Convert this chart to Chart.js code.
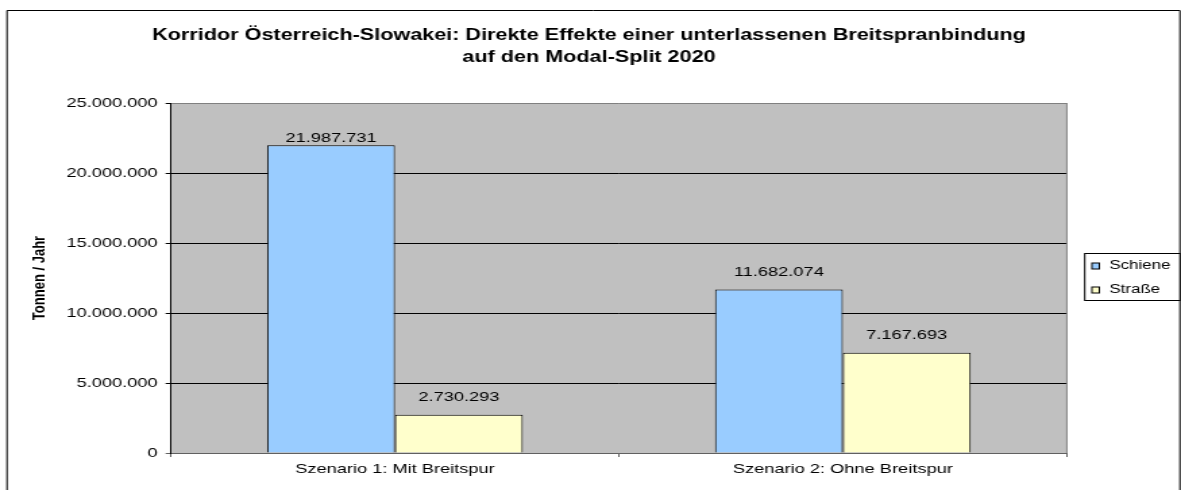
<!DOCTYPE html>
<html>
<head>
<meta charset="utf-8">
<script src="https://cdn.jsdelivr.net/npm/chart.js@4.4.1/dist/chart.umd.min.js"></script>
<style>
  html, body { margin: 0; padding: 0; background: #fff; overflow: hidden; }
  #c { display: block; }
</style>
</head>
<body>
<canvas id="c" width="875" height="490" style="width:1181px;height:490px"></canvas>
<script>
// ---- data ----
const categories = ['Szenario 1: Mit Breitspur', 'Szenario 2: Ohne Breitspur'];
const seriesNames = ['Schiene', 'Straße'];
const schiene = [21987731, 11682074];
const strasse = [2730293, 7167693];
const yMin = 0;
const yMax = 25000000;
const yStep = 5000000;
const titleLines = ['Korridor Österreich-Slowakei: Direkte Effekte einer unterlassenen Breitspranbindung', 'auf den Modal-Split 2020'];
const yAxisTitle = 'Tonnen / Jahr';

// ---- helpers ----
const FONT = "'Liberation Sans', Arial, sans-serif";
function fmtDE(v) {
  return String(Math.round(v)).replace(/\B(?=(\d{3})+(?!\d))/g, '.');
}

// canvas is drawn at 875 px wide and stretched to 1181 px (reference is horizontally stretched)
const PLOT_LEFT = 126.7, PLOT_RIGHT = 790.4, PLOT_TOP = 103, PLOT_BOTTOM = 453;
const W = 875, H = 490;

const decorPlugin = {
  id: 'decor',
  beforeDraw(chart) {
    const ctx = chart.ctx, a = chart.chartArea;
    ctx.save();
    ctx.fillStyle = '#fff';
    ctx.fillRect(0, 0, W, H);
    ctx.fillStyle = '#C0C0C0';
    ctx.fillRect(a.left, a.top, a.right - a.left, a.bottom - a.top);
    ctx.restore();
  },
  afterDraw(chart) {
    const ctx = chart.ctx, a = chart.chartArea;
    ctx.save();
    // plot right border (gray)
    ctx.strokeStyle = '#808080';
    ctx.lineWidth = 1;
    ctx.beginPath();
    ctx.moveTo(a.right, a.top);
    ctx.lineTo(a.right, a.bottom);
    ctx.stroke();
    // outer frame
    ctx.strokeStyle = '#000';
    ctx.beginPath();
    ctx.moveTo(5.2, H + 5);
    ctx.lineTo(5.2, 10.5);
    ctx.lineTo(874.2, 10.5);
    ctx.lineTo(874.2, H + 5);
    ctx.stroke();
    // title
    ctx.fillStyle = '#000';
    ctx.font = 'bold 16px ' + FONT;
    ctx.textAlign = 'center';
    ctx.textBaseline = 'alphabetic';
    ctx.fillText(titleLines[0], 436.4, 40);
    ctx.fillText(titleLines[1], 436.4, 62);
    // y axis title
    ctx.save();
    ctx.translate(29, (a.top + a.bottom) / 2);
    ctx.rotate(-Math.PI / 2);
    ctx.font = 'bold 13px ' + FONT;
    ctx.textBaseline = 'middle';
    ctx.fillText(yAxisTitle, 0, 0);
    ctx.restore();
    // data labels
    ctx.font = '13.5px ' + FONT;
    ctx.textAlign = 'center';
    ctx.textBaseline = 'middle';
    chart.data.datasets.forEach((ds, di) => {
      const meta = chart.getDatasetMeta(di);
      meta.data.forEach((bar, i) => {
        let y = bar.y - 17;
        if (y < a.top + 34) y = bar.y - 7;
        ctx.fillText(fmtDE(ds.data[i]), bar.x, y);
      });
    });
    // legend
    const lx = 803.7, ly = 253.5, lw = 874.2 - 803.7, lh = 47;
    ctx.fillStyle = '#fff';
    ctx.fillRect(lx, ly, lw, lh);
    ctx.strokeStyle = '#000';
    ctx.strokeRect(lx, ly, lw, lh);
    ctx.font = '12.5px ' + FONT;
    ctx.textAlign = 'left';
    ctx.textBaseline = 'middle';
    chart.data.datasets.forEach((ds, di) => {
      const cy = 266 + di * 24;
      ctx.fillStyle = ds.backgroundColor;
      ctx.fillRect(809, cy - 3, 5.5, 6);
      ctx.strokeStyle = '#000';
      ctx.strokeRect(809, cy - 3, 5.5, 6);
      ctx.fillStyle = '#000';
      ctx.fillText(ds.label, 822, cy);
    });
    ctx.restore();
  }
};

new Chart(document.getElementById('c'), {
  type: 'bar',
  data: {
    labels: categories,
    datasets: [
      { label: seriesNames[0], data: schiene, backgroundColor: '#99CCFF', borderColor: '#000', borderWidth: 1 },
      { label: seriesNames[1], data: strasse, backgroundColor: '#FFFFCC', borderColor: '#000', borderWidth: 1 }
    ]
  },
  options: {
    responsive: false,
    animation: false,
    devicePixelRatio: 1,
    categoryPercentage: 0.571,
    barPercentage: 1,
    layout: { padding: { left: 0, top: PLOT_TOP, right: W - PLOT_RIGHT, bottom: 0 } },
    plugins: { legend: { display: false }, title: { display: false }, tooltip: { enabled: false } },
    scales: {
      x: {
        offset: true,
        afterFit(s) { s.height = H - PLOT_BOTTOM; },
        grid: { display: true, drawOnChartArea: false, offset: true, tickLength: 4, color: '#606060', tickColor: '#606060' },
        border: { display: true, color: '#606060', width: 1 },
        ticks: { color: '#000', font: { family: FONT, size: 13.5 }, padding: 4, maxRotation: 0 }
      },
      y: {
        min: yMin,
        max: yMax,
        afterFit(s) { s.width = PLOT_LEFT; },
        grid: {
          tickLength: 4,
          color: (c) => c.tick && c.tick.value === yMax ? '#808080' : (c.tick && c.tick.value === yMin ? '#606060' : '#000'),
          tickColor: (c) => c.tick && c.tick.value === yMin ? '#606060' : '#000'
        },
        border: { display: true, color: '#000', width: 1 },
        ticks: {
          stepSize: yStep,
          color: '#000',
          font: { family: FONT, size: 13.5 },
          padding: 6,
          callback: (v) => fmtDE(v)
        }
      }
    }
  },
  plugins: [decorPlugin]
});
</script>
</body>
</html>
